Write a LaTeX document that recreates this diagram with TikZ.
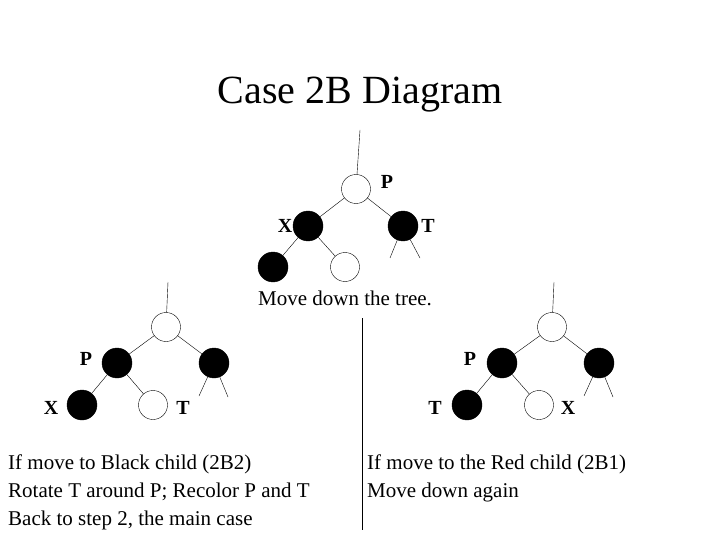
\documentclass[tikz,border=0pt]{standalone}
\usepackage{fontspec}
\setmainfont{Liberation Serif}
\begin{document}
\begin{tikzpicture}[x=1pt,y=-1pt]
\tikzset{
  red/.style={circle,draw=black,fill=white,minimum size=29pt,inner sep=0pt},
  blk/.style={circle,draw=black,fill=black,minimum size=30pt,inner sep=0pt},
  lab/.style={font=\fontsize{20}{20}\selectfont\bfseries,inner sep=0pt},
  txt/.style={font=\fontsize{21}{28}\selectfont,inner sep=0pt,anchor=west}
}
\useasboundingbox (0,0) rectangle (720,540);
\node[font=\fontsize{40}{40}\selectfont] (title) at (360,95) {Case 2B Diagram};
% top tree
\node[red] (p) at (356,189) {};
\node[blk] (x) at (308,226) {};
\node[blk] (t) at (403,226) {};
\node[blk] (xl) at (273,267) {};
\node[red] (xr) at (345,267) {};
\coordinate (ptop) at (360,130);
\coordinate (t1) at (390,258);
\coordinate (t2) at (420,258);
\draw (ptop) -- (p);
\draw (p) -- (x);
\draw (p) -- (t);
\draw (x) -- (xl);
\draw (x) -- (xr);
\draw (t) -- (t1);
\draw (t) -- (t2);
\node[lab] at (387,182) {P};
\node[lab] at (285,226) {X};
\node[lab] at (428,226) {T};
\node[font=\fontsize{21}{21}\selectfont] (move) at (345,298) {Move down the tree.};
% divider
\coordinate (d1) at (362,318);
\coordinate (d2) at (362,530);
\draw (d1) -- (d2);
% left tree
\node[red] (lr) at (166,327) {};
\node[blk] (lp) at (117,363) {};
\node[blk] (ls) at (214,363) {};
\node[blk] (lx) at (82,405) {};
\node[red] (lt) at (153,405) {};
\coordinate (lrtop) at (168,282);
\coordinate (ls1) at (199,396);
\coordinate (ls2) at (228,397);
\draw (lrtop) -- (lr);
\draw (lr) -- (lp);
\draw (lr) -- (ls);
\draw (lp) -- (lx);
\draw (lp) -- (lt);
\draw (ls) -- (ls1);
\draw (ls) -- (ls2);
\node[lab] at (86,359) {P};
\node[lab] at (51,408) {X};
\node[lab] at (183,408) {T};
% right tree
\node[red] (rr) at (552,327) {};
\node[blk] (rp) at (502,363) {};
\node[blk] (rs) at (599,363) {};
\node[blk] (rt) at (467,405) {};
\node[red] (rx) at (539,405) {};
\coordinate (rrtop) at (554,282);
\coordinate (rs1) at (584,396);
\coordinate (rs2) at (613,397);
\draw (rrtop) -- (rr);
\draw (rr) -- (rp);
\draw (rr) -- (rs);
\draw (rp) -- (rt);
\draw (rp) -- (rx);
\draw (rs) -- (rs1);
\draw (rs) -- (rs2);
\node[lab] at (470,359) {P};
\node[lab] at (435,408) {T};
\node[lab] at (568,408) {X};
% captions
\node[txt] (c1) at (8,464) {If move to Black child (2B2)};
\node[txt] (c2) at (8,492) {Rotate T around P; Recolor P and T};
\node[txt] (c3) at (8,520) {Back to step 2, the main case};
\node[txt] (c4) at (367,464) {If move to the Red child (2B1)};
\node[txt] (c5) at (367,492) {Move down again};
\end{tikzpicture}
\end{document}
